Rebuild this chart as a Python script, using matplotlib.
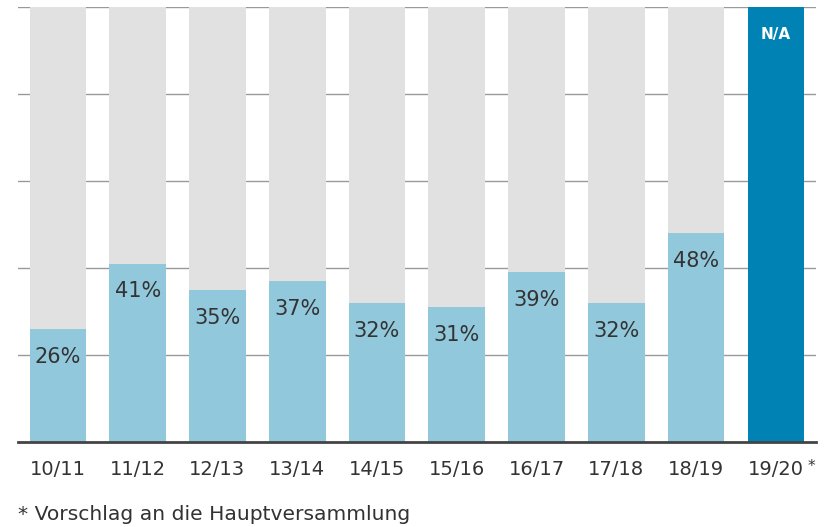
import matplotlib
matplotlib.use("Agg")
import matplotlib.pyplot as plt
import numpy as np

plt.rcParams['font.family'] = ['DejaVu Sans']

# ── data ──
years  = ["10/11", "11/12", "12/13", "13/14", "14/15",
          "15/16", "16/17", "17/18", "18/19", "19/20"]
values = [26, 41, 35, 37, 32, 31, 39, 32, 48]      # 19/20 has no value
na_label = "N/A"
footnote = "* Vorschlag an die Hauptversammlung"

GREY  = "#e1e1e1"
LIGHT = "#92c8dc"
DARK  = "#0082b4"
TEXT  = "#333333"

fig = plt.figure(figsize=(8.25, 5.27), dpi=100)
ax = fig.add_axes([0.0218, 0.1613, 0.967, 0.8254])

x = np.arange(len(years))
w = 0.71

# grey full-height backdrop
ax.bar(x[:-1], [100] * (len(years) - 1), width=w, color=GREY, zorder=2)
# value bars
ax.bar(x[:len(values)], values, width=w, color=LIGHT, zorder=3)
# last year, not available
ax.bar(x[-1], 100, width=w, color=DARK, zorder=3)

for xi, v in zip(x, values):
    ax.annotate(f"{v}%", (xi, v), xytext=(0, -20), textcoords="offset points",
                ha="center", va="center", fontsize=15, color=TEXT, zorder=5)

ax.annotate(na_label, (x[-1], 100), xytext=(0, -20), textcoords="offset points",
            ha="center", va="center", fontsize=11, color="white",
            fontweight="bold", zorder=5)

ax.set_xlim(-0.5, len(years) - 0.5)
ax.set_ylim(0, 100)
ax.set_yticks([20, 40, 60, 80, 100])
ax.yaxis.grid(True, color="#999999", linewidth=1.0, zorder=1)
ax.set_axisbelow(True)
ax.tick_params(axis="y", left=False, labelleft=False)
ax.set_xticks(x)
ax.set_xticklabels(years, fontsize=14, color=TEXT)
ax.tick_params(axis="x", length=0, pad=13)

for s in ["top", "right", "left"]:
    ax.spines[s].set_visible(False)
ax.spines["bottom"].set_color("#444444")
ax.spines["bottom"].set_linewidth(2)
ax.spines["bottom"].set_zorder(6)

# superscript star after the last year
ax.annotate("*", (x[-1], 0), xycoords=("data", "axes fraction"),
            xytext=(25.5, -18), textcoords="offset points",
            ha="center", va="center", fontsize=11, color=TEXT)

fig.text(18 / 825, 1 - 515 / 527, footnote, ha="left", va="center",
         fontsize=14.6, color=TEXT)

fig.savefig("out.png", dpi=100, facecolor="white")
